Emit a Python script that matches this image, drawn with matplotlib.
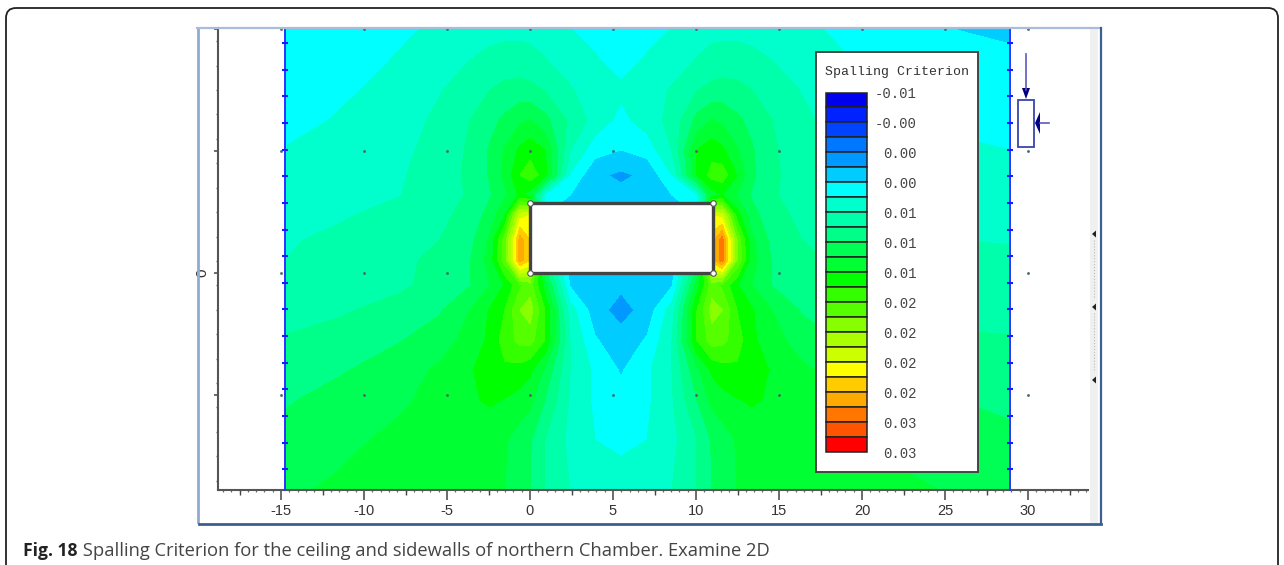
import numpy as np
import matplotlib
matplotlib.use('Agg')
import matplotlib.pyplot as plt
from matplotlib.patches import Rectangle, FancyBboxPatch, Polygon

# grid of the contour field, metres
grid_x = [-14.76, -11.45, -7.83, -5.42, -3.61, -2.41, -1.51, -0.60, 0.0, 0.90, 2.41, 3.92, 5.48,
          7.05, 8.55, 10.06, 10.96, 11.57, 12.47, 13.37, 14.58, 16.39, 18.80, 22.41, 25.78, 28.92]
grid_y = [14.76, 12.83, 11.02, 9.22, 7.41, 5.90, 4.70, 3.49, 1.99, 0.78,
          -0.72, -2.23, -4.04, -5.84, -7.65, -10.06, -13.07]

# field in legend band units (band k = k-th swatch from the top)
field = [
    [6.0, 6.3, 6.8, 7.2, 7.5, 7.6, 7.7, 7.7, 7.7, 7.6, 7.0, 6.7, 6.4, 6.7, 7.0, 7.6, 7.7, 7.7, 7.7, 7.6, 7.5, 7.2, 6.8, 6.3, 5.98, 5.8],
    [6.1, 6.5, 7.1, 7.6, 8.0, 8.3, 8.4, 8.4, 8.3, 8.05, 7.5, 7.1, 6.6, 7.1, 7.5, 8.05, 8.3, 8.4, 8.4, 8.3, 8.0, 7.6, 7.1, 6.5, 6.25, 6.2],
    [6.2, 6.8, 7.4, 7.95, 8.5, 9.0, 9.3, 9.4, 9.3, 8.95, 8.1, 7.5, 7.2, 7.5, 8.1, 8.95, 9.3, 9.4, 9.3, 9.0, 8.5, 7.95, 7.4, 6.8, 6.5, 6.4],
    [6.6, 7.1, 7.6, 8.2, 9.0, 9.7, 10.2, 10.8, 11.0, 10.3, 8.8, 7.6, 6.7, 7.5, 8.3, 10.3, 11.0, 10.8, 10.2, 9.7, 9.0, 8.2, 7.6, 7.1, 6.8, 6.7],
    [7.05, 7.3, 7.75, 8.4, 9.15, 10.1, 11.1, 12.2, 12.6, 12.0, 8.05, 6.4, 6.0, 6.4, 8.05, 12.0, 12.6, 12.2, 11.1, 10.1, 9.15, 8.4, 7.75, 7.3, 7.15, 7.0],
    [7.3, 7.6, 7.9, 8.5, 9.2, 10.1, 11.3, 13.0, 13.6, 12.5, 6.9, 5.2, 4.8, 5.2, 7.0, 12.0, 13.4, 13.6, 12.0, 10.2, 9.2, 8.5, 7.9, 7.6, 7.4, 7.25],
    [7.5, 7.75, 7.97, 8.6, 9.1, 9.9, 10.8, 12.2, 11.5, 6.8, 6.0, 5.6, 5.3, 5.6, 6.0, 6.8, 11.5, 12.0, 10.9, 9.9, 9.1, 8.6, 7.97, 7.75, 7.6, 7.5],
    [7.65, 7.9, 8.3, 8.8, 9.3, 10.4, 12.0, 17.5, 18.0, 6.0, 5.5, 5.2, 5.0, 5.2, 5.5, 6.0, 18.0, 17.5, 12.5, 10.4, 9.3, 8.8, 8.3, 7.9, 7.75, 7.7],
    [7.9, 8.2, 8.6, 9.0, 9.7, 11.2, 14.5, 20.5, 19.0, 8.0, 5.5, 5.2, 5.0, 5.2, 5.5, 8.0, 19.5, 21.5, 15.0, 11.2, 9.7, 9.0, 8.6, 8.2, 8.0, 7.95],
    [8.0, 8.35, 8.75, 9.3, 9.95, 11.4, 14.5, 20.5, 19.0, 9.0, 5.5, 5.2, 5.0, 5.2, 5.5, 9.0, 19.5, 21.5, 15.0, 11.4, 9.95, 9.3, 8.75, 8.35, 8.15, 8.15],
    [8.25, 8.6, 8.85, 9.3, 9.95, 11.0, 12.1, 13.8, 14.5, 11.5, 5.9, 5.4, 5.2, 5.4, 5.9, 11.5, 14.5, 13.8, 12.1, 11.0, 9.95, 9.3, 8.85, 8.6, 8.4, 8.45],
    [8.55, 8.9, 9.3, 9.9, 11.0, 12.1, 13.0, 15.0, 15.5, 13.0, 7.5, 5.4, 4.6, 5.4, 7.5, 13.0, 15.4, 15.0, 13.0, 12.1, 11.0, 9.9, 9.3, 8.9, 8.7, 8.75],
    [9.1, 9.3, 9.95, 10.5, 11.4, 12.2, 13.5, 14.3, 14.4, 13.0, 8.0, 6.1, 5.4, 6.1, 8.0, 13.0, 14.5, 14.3, 13.5, 12.2, 11.4, 10.5, 9.95, 9.3, 9.15, 9.05],
    [9.6, 9.9, 10.5, 11.2, 11.9, 12.5, 12.8, 12.6, 12.2, 10.8, 8.0, 6.8, 5.9, 6.8, 8.0, 10.8, 12.2, 12.6, 12.8, 12.5, 11.9, 11.2, 10.5, 9.9, 9.6, 9.4],
    [9.9, 10.35, 10.8, 11.4, 11.9, 12.1, 11.95, 11.6, 11.3, 10.0, 7.9, 6.8, 6.3, 6.8, 7.9, 10.0, 11.3, 11.6, 11.95, 12.1, 11.9, 11.4, 10.8, 10.35, 10.0, 9.8],
    [10.3, 10.7, 11.3, 11.6, 11.7, 11.5, 11.1, 10.5, 10.1, 9.0, 7.7, 7.0, 6.75, 7.0, 7.7, 9.0, 10.1, 10.5, 11.1, 11.5, 11.7, 11.6, 11.3, 10.7, 10.5, 10.2],
    [10.8, 11.2, 11.5, 11.5, 11.3, 11.1, 11.0, 10.4, 10.0, 9.0, 8.0, 7.6, 7.5, 7.6, 8.0, 9.0, 10.0, 10.4, 11.0, 11.1, 11.3, 11.5, 11.5, 11.2, 10.9, 10.6],
]

band_colors = ['#0000ee', '#0022ff', '#0044ff', '#0077ff', '#0099ff', '#00ccff', '#00ffff', '#00ffcc',
               '#00ffaa', '#00ff88', '#00ff55', '#00ff33', '#00ff00', '#33ff00', '#55ff00', '#88ff00',
               '#aaff00', '#ccff00', '#ffff00', '#ffcc00', '#ffaa00', '#ff7700', '#ff5500', '#ff0000']
legend_labels = ['-0.01', '-0.00', '0.00', '0.00', '0.01', '0.01', '0.01', '0.02', '0.02', '0.02', '0.02', '0.03', '0.03']

x_major = [-15, -10, -5, 0, 5, 10, 15, 20, 25, 30]
y_major = [14.7, 7.35, 0, -7.35]
y_labels = ['', '', '0', '']
boundary_x = [-14.76, 28.92]
boundary_nodes = [13.86, 12.25, 10.65, 9.04, 7.44, 5.83, 4.23, 2.62, 1.02, -0.59, -2.19, -3.80, -5.40, -7.01, -8.61, -10.22, -11.82]
room_x = [0, 11, 11, 0, 0]
room_y = [0, 0, 4.22, 4.22, 0]

narrow = 'Liberation Sans'
W, H = 1284, 565
fig = plt.figure(figsize=(W/100, H/100), dpi=100)

# main plot
ax = fig.add_axes([218/W, 1-490/H, (1088-218)/W, (490-28)/H])
ax.patch.set_alpha(0)
ax.contourf(grid_x, grid_y, field, levels=np.arange(0, 25), colors=band_colors)
ax.set_xlim((218-530)/16.6, (1088-530)/16.6)
ax.set_ylim(-13.07, 14.76)
for s in ['top', 'right']:
    ax.spines[s].set_visible(False)
for s in ['left', 'bottom']:
    ax.spines[s].set_color('#555555')
    ax.spines[s].set_linewidth(1.5)

ax.set_xticks(x_major)
ax.set_xticklabels([str(v) for v in x_major], family=narrow, fontsize=10.5, color='#333333')
ax.set_xticks(np.arange(-18.5, 33.6, 0.5), minor=True)
ax.tick_params(axis='x', which='major', length=7, width=1.1, color='#444444', pad=3)
ax.tick_params(axis='x', which='minor', length=1.5, width=0.9, color='#666666')
ax.vlines(np.arange(-17.5, 33.6, 5), 0, -0.011, transform=ax.get_xaxis_transform(), clip_on=False, color='#444444', lw=1)

ax.set_yticks(y_major)
ax.set_yticklabels(y_labels, family=narrow, fontsize=11, color='#333333', rotation=90, va='center')
ax.set_yticks(np.arange(-12.5, 14.7, 1.47), minor=True)
ax.tick_params(axis='y', which='major', length=3, width=1.1, color='#444444', pad=3.5)
ax.tick_params(axis='y', which='minor', length=1.2, width=1.0, color='#666666')

# grid dots, external boundary, excavation
gx, gy = np.meshgrid(x_major, y_major)
ax.plot(gx.ravel(), gy.ravel(), ls='none', marker='s', ms=0.9, color='#446666', zorder=3, clip_on=False)
for bx in boundary_x:
    ax.plot([bx, bx], [-13.07, 14.76], color='#3333ff', lw=1.4, zorder=4, clip_on=False)
    ax.plot([bx]*len(boundary_nodes), boundary_nodes, ls='none', marker='_', ms=5, mew=1.5, color='#1a1aff', zorder=4)
ax.fill(room_x, room_y, color='white', zorder=5)
ax.plot(room_x, room_y, color='#444444', lw=2.4, zorder=6)
ax.plot(room_x[:4], room_y[:4], ls='none', marker='o', ms=4, mfc='white', mec='#555555', mew=0.8, zorder=7)

# page furniture, legend and stress symbol in pixel coordinates
over = fig.add_axes([0, 0, 1, 1], zorder=5)
over.set_xlim(0, W)
over.set_ylim(H, 0)
over.axis('off')
over.add_patch(FancyBboxPatch((6, 8), 1272, 600, boxstyle='round,pad=0,rounding_size=10', fc='none', ec='#222222', lw=1.3, clip_on=True))
over.add_patch(Rectangle((1090, 28), 8, 495, fc='#f0f0f0', ec='none'))
over.plot([197.5, 197.5], [28, 522], color='#8faad0', lw=2)
over.plot([197, 1099], [28, 28], color='#a9bcdc', lw=1.6)
over.plot([199, 1101], [524, 524], color='#3d5f8f', lw=2)
over.plot([1100.5, 1100.5], [28, 524], color='#3d5f8f', lw=1.6)
for py in [234, 307, 380]:
    over.add_patch(Polygon([(1092, py), (1096, py-3.5), (1096, py+3.5)], fc='#222222', ec='none'))
    over.plot([1094, 1094], [py+6, py+65 if py < 380 else py+6], color='#bbbbbb', lw=0.8, ls=':')

# legend
over.add_patch(Rectangle((816, 52), 162, 420, fc='white', ec='#444444', lw=1.4))
over.text(897, 72, 'Spalling Criterion', family='Liberation Mono', fontsize=9.5, color='#333333', ha='center', va='center')
for i, c in enumerate(band_colors):
    over.add_patch(Rectangle((826, 92.5+i*14.98), 41, 14.98, fc=c, ec='#222222', lw=1.1))
for i, lab in enumerate(legend_labels):
    over.text(917, 93.5+i*30, lab, family='Liberation Mono', fontsize=10, color='#444444', ha='right', va='center')

# stress symbol
over.add_patch(Rectangle((1018, 100), 16, 47, fc='white', ec='#3a44aa', lw=1.3))
over.plot([1026, 1026], [54, 90], color='#5a5ab8', lw=1.2)
over.add_patch(Polygon([(1022, 88), (1030, 88), (1026, 99)], fc='#000080', ec='none'))
over.plot([1040, 1049], [123, 123], color='#5a5ab8', lw=1.2)
over.add_patch(Polygon([(1035, 123), (1040, 112), (1040, 134)], fc='#000080', ec='none'))

# caption
t = over.text(23, 551, 'Fig. 18', family='Open Sans', fontweight='bold', fontsize=12.6, color='#222222', va='center')
over.annotate(' Spalling Criterion for the ceiling and sidewalls of northern Chamber. Examine 2D',
              xy=(1, 0.5), xycoords=t, va='center', family='Open Sans', fontsize=13.2, color='#444444')

plt.savefig('out.png', dpi=100)
